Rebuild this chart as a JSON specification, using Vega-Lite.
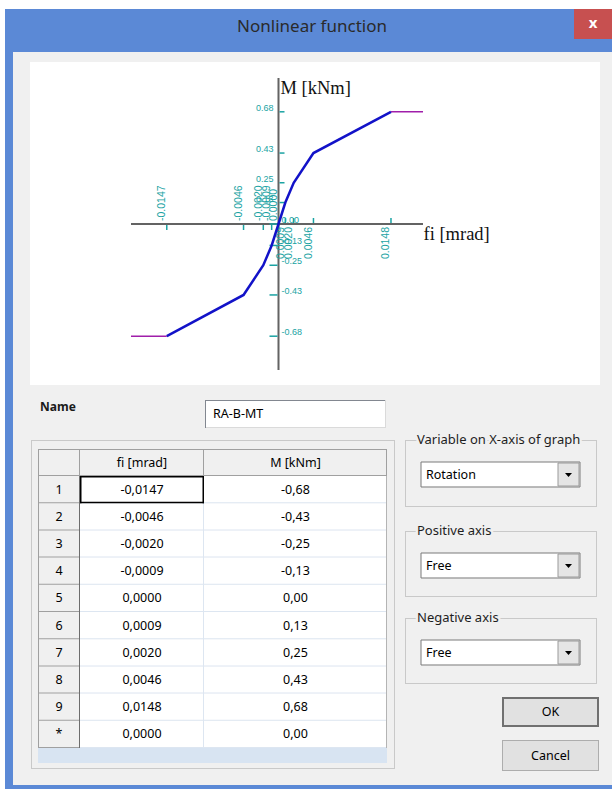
{
  "$schema": "https://vega.github.io/schema/vega-lite/v6.json",
  "background": "#F0F0F0",
  "padding": 0,
  "config": {
    "view": {"stroke": null},
    "tick": {"opacity": 1},
    "locale": {"number": {"decimal": ".", "thousands": ",", "grouping": [3], "currency": ["", ""], "minus": "-"}}
  },
  "datasets": {
    "table": [
      {"n": "1", "fi": -0.0147, "M": -0.68, "fiText": "-0,0147", "MText": "-0,68"},
      {"n": "2", "fi": -0.0046, "M": -0.43, "fiText": "-0,0046", "MText": "-0,43"},
      {"n": "3", "fi": -0.0020, "M": -0.25, "fiText": "-0,0020", "MText": "-0,25"},
      {"n": "4", "fi": -0.0009, "M": -0.13, "fiText": "-0,0009", "MText": "-0,13"},
      {"n": "5", "fi": 0.0, "M": 0.0, "fiText": "0,0000", "MText": "0,00"},
      {"n": "6", "fi": 0.0009, "M": 0.13, "fiText": "0,0009", "MText": "0,13"},
      {"n": "7", "fi": 0.0020, "M": 0.25, "fiText": "0,0020", "MText": "0,25"},
      {"n": "8", "fi": 0.0046, "M": 0.43, "fiText": "0,0046", "MText": "0,43"},
      {"n": "9", "fi": 0.0148, "M": 0.68, "fiText": "0,0148", "MText": "0,68"},
      {"n": "*", "fi": null, "M": null, "fiText": "0,0000", "MText": "0,00"}
    ],
    "ext": [
      {"seg": "L", "fi": -0.019408, "M": -0.68},
      {"seg": "L", "fi": -0.0147, "M": -0.68},
      {"seg": "R", "fi": 0.0148, "M": 0.68},
      {"seg": "R", "fi": 0.019013, "M": 0.68}
    ],
    "none": [],
    "one": [{}]
  },
  "spacing": 0,
  "hconcat": [
    {"width": 5, "height": 789, "view": {"fill": "white", "stroke": null}, "data": {"name": "none"}, "mark": "text", "encoding": {"text": {"value": ""}}},
    {
      "spacing": 0,
      "vconcat": [
        {"width": 607, "height": 9, "view": {"fill": "white", "stroke": null}, "data": {"name": "none"}, "mark": "text", "encoding": {"text": {"value": ""}}},
        {
          "spacing": 0,
          "hconcat": [
            {"width": 569, "height": 43, "view": {"fill": "#5B89D6", "stroke": null}, "data": {"values": [{"t": "Nonlinear function"}]}, "mark": {"type": "text", "font": "Noto Sans", "fontSize": 17, "color": "#2A2A2A", "dx": 22.5, "dy": -3.5}, "encoding": {"text": {"field": "t"}}},
            {
              "spacing": 0,
              "vconcat": [
                {"width": 38, "height": 30, "view": {"fill": "#C75050", "stroke": null}, "data": {"values": [{"t": "x"}]}, "mark": {"type": "text", "font": "Noto Sans", "fontSize": 15, "fontWeight": "bold", "color": "white", "dy": -1}, "encoding": {"text": {"field": "t"}}},
                {"width": 38, "height": 13, "view": {"fill": "#5B89D6", "stroke": null}, "data": {"name": "none"}, "mark": "text", "encoding": {"text": {"value": ""}}}
              ]
            }
          ]
        },
        {
          "spacing": 0,
          "hconcat": [
            {"width": 8, "height": 733, "view": {"fill": "#5B89D6", "stroke": null}, "data": {"name": "none"}, "mark": "text", "encoding": {"text": {"value": ""}}},
            {
              "spacing": 0,
              "vconcat": [
                {"width": 1, "height": 10, "data": {"name": "none"}, "mark": "text", "encoding": {"text": {"value": ""}}},
                {
                  "spacing": 0,
                  "hconcat": [
                    {"width": 17, "height": 1, "data": {"name": "none"}, "mark": "text", "encoding": {"text": {"value": ""}}},
                    {
                      "width": 570,
                      "height": 323,
                      "view": {"fill": "white", "stroke": null},
                      "layer": [
                        {"data": {"name": "one"}, "mark": {"type": "rule", "color": "#636363", "strokeWidth": 2},
                          "encoding": {
                            "x": {"datum": -0.019408, "type": "quantitative", "scale": {"domain": [-0.0326974, 0.0423026], "nice": false, "zero": false}, "axis": null},
                            "x2": {"datum": 0.019013},
                            "y": {"datum": 0, "type": "quantitative", "scale": {"domain": [-0.975758, 0.981818], "nice": false, "zero": false}, "axis": null}
                          }},
                        {"data": {"name": "one"}, "mark": {"type": "rule", "color": "#636363", "strokeWidth": 2},
                          "encoding": {
                            "x": {"datum": 0, "type": "quantitative", "scale": {"domain": [-0.0326974, 0.0423026], "nice": false, "zero": false}, "axis": null},
                            "y": {"datum": 0.88485, "type": "quantitative", "scale": {"domain": [-0.975758, 0.981818], "nice": false, "zero": false}, "axis": null},
                            "y2": {"datum": -0.88485}
                          }},
                        {"data": {"name": "table"}, "transform": [{"filter": "datum.n !== '*' && datum.fi <= 0"}],
                          "mark": {"type": "tick", "orient": "vertical", "size": 5, "thickness": 1.5, "yOffset": 3.5, "color": "#1AA3A3", "opacity": 1},
                          "encoding": {
                            "x": {"field": "fi", "type": "quantitative", "scale": {"domain": [-0.0326974, 0.0423026], "nice": false, "zero": false}, "axis": null},
                            "y": {"datum": 0, "type": "quantitative", "scale": {"domain": [-0.975758, 0.981818], "nice": false, "zero": false}, "axis": null}
                          }},
                        {"data": {"name": "table"}, "transform": [{"filter": "datum.n !== '*' && datum.fi > 0"}],
                          "mark": {"type": "tick", "orient": "vertical", "size": 5, "thickness": 1.5, "yOffset": -3.5, "color": "#1AA3A3", "opacity": 1},
                          "encoding": {
                            "x": {"field": "fi", "type": "quantitative", "scale": {"domain": [-0.0326974, 0.0423026], "nice": false, "zero": false}, "axis": null},
                            "y": {"datum": 0, "type": "quantitative", "scale": {"domain": [-0.975758, 0.981818], "nice": false, "zero": false}, "axis": null}
                          }},
                        {"data": {"name": "table"}, "transform": [{"filter": "datum.n !== '*' && datum.M > 0"}],
                          "mark": {"type": "tick", "orient": "horizontal", "size": 5, "thickness": 1.5, "xOffset": 3.5, "color": "#1AA3A3", "opacity": 1},
                          "encoding": {
                            "x": {"datum": 0, "type": "quantitative", "scale": {"domain": [-0.0326974, 0.0423026], "nice": false, "zero": false}, "axis": null},
                            "y": {"field": "M", "type": "quantitative", "scale": {"domain": [-0.975758, 0.981818], "nice": false, "zero": false}, "axis": null}
                          }},
                        {"data": {"name": "table"}, "transform": [{"filter": "datum.n !== '*' && datum.M <= 0"}],
                          "mark": {"type": "tick", "orient": "horizontal", "size": 8, "thickness": 1.5, "xOffset": -5, "color": "#1AA3A3", "opacity": 1},
                          "encoding": {
                            "x": {"datum": 0, "type": "quantitative", "scale": {"domain": [-0.0326974, 0.0423026], "nice": false, "zero": false}, "axis": null},
                            "y": {"field": "M", "type": "quantitative", "scale": {"domain": [-0.975758, 0.981818], "nice": false, "zero": false}, "axis": null}
                          }},
                        {"data": {"name": "table"}, "transform": [{"filter": "datum.n !== '*' && datum.fi <= 0"}],
                          "mark": {"type": "text", "angle": 270, "align": "left", "baseline": "alphabetic", "dx": 3, "dy": -1.5, "font": "Liberation Sans", "fontSize": 10.5, "color": "#1AA3A3"},
                          "encoding": {
                            "x": {"field": "fi", "type": "quantitative", "scale": {"domain": [-0.0326974, 0.0423026], "nice": false, "zero": false}, "axis": null},
                            "y": {"datum": 0, "type": "quantitative", "scale": {"domain": [-0.975758, 0.981818], "nice": false, "zero": false}, "axis": null},
                            "text": {"field": "fi", "type": "quantitative", "format": ".4f"}
                          }},
                        {"data": {"name": "table"}, "transform": [{"filter": "datum.n !== '*' && datum.fi > 0"}],
                          "mark": {"type": "text", "angle": 270, "align": "right", "baseline": "alphabetic", "dx": -3, "dy": -1.5, "font": "Liberation Sans", "fontSize": 10.5, "color": "#1AA3A3"},
                          "encoding": {
                            "x": {"field": "fi", "type": "quantitative", "scale": {"domain": [-0.0326974, 0.0423026], "nice": false, "zero": false}, "axis": null},
                            "y": {"datum": 0, "type": "quantitative", "scale": {"domain": [-0.975758, 0.981818], "nice": false, "zero": false}, "axis": null},
                            "text": {"field": "fi", "type": "quantitative", "format": ".4f"}
                          }},
                        {"data": {"name": "table"}, "transform": [{"filter": "datum.n !== '*' && datum.M > 0"}],
                          "mark": {"type": "text", "align": "right", "baseline": "alphabetic", "dx": -5, "dy": -1, "font": "Liberation Sans", "fontSize": 9, "color": "#1AA3A3"},
                          "encoding": {
                            "x": {"datum": 0, "type": "quantitative", "scale": {"domain": [-0.0326974, 0.0423026], "nice": false, "zero": false}, "axis": null},
                            "y": {"field": "M", "type": "quantitative", "scale": {"domain": [-0.975758, 0.981818], "nice": false, "zero": false}, "axis": null},
                            "text": {"field": "M", "type": "quantitative", "format": ".2f"}
                          }},
                        {"data": {"name": "table"}, "transform": [{"filter": "datum.n !== '*' && datum.M <= 0"}],
                          "mark": {"type": "text", "align": "left", "baseline": "alphabetic", "dx": 3, "dy": -1, "font": "Liberation Sans", "fontSize": 9, "color": "#1AA3A3"},
                          "encoding": {
                            "x": {"datum": 0, "type": "quantitative", "scale": {"domain": [-0.0326974, 0.0423026], "nice": false, "zero": false}, "axis": null},
                            "y": {"field": "M", "type": "quantitative", "scale": {"domain": [-0.975758, 0.981818], "nice": false, "zero": false}, "axis": null},
                            "text": {"field": "M", "type": "quantitative", "format": ".2f"}
                          }},
                        {"data": {"name": "ext"},
                          "mark": {"type": "line", "color": "#A01EAA", "strokeWidth": 1.5},
                          "encoding": {
                            "x": {"field": "fi", "type": "quantitative", "scale": {"domain": [-0.0326974, 0.0423026], "nice": false, "zero": false}, "axis": null},
                            "y": {"field": "M", "type": "quantitative", "scale": {"domain": [-0.975758, 0.981818], "nice": false, "zero": false}, "axis": null},
                            "detail": {"field": "seg"}
                          }},
                        {"data": {"name": "table"}, "transform": [{"filter": "datum.n !== '*'"}],
                          "mark": {"type": "line", "color": "#1212C8", "strokeWidth": 2.5},
                          "encoding": {
                            "x": {"field": "fi", "type": "quantitative", "scale": {"domain": [-0.0326974, 0.0423026], "nice": false, "zero": false}, "axis": null},
                            "y": {"field": "M", "type": "quantitative", "scale": {"domain": [-0.975758, 0.981818], "nice": false, "zero": false}, "axis": null}
                          }},
                        {"data": {"values": [{"t": "M [kNm]"}]},
                          "mark": {"type": "text", "align": "left", "baseline": "alphabetic", "dx": 2, "dy": 16, "font": "Liberation Serif", "fontSize": 18.5, "color": "#111111"},
                          "encoding": {
                            "x": {"datum": 0, "type": "quantitative", "scale": {"domain": [-0.0326974, 0.0423026], "nice": false, "zero": false}, "axis": null},
                            "y": {"datum": 0.88485, "type": "quantitative", "scale": {"domain": [-0.975758, 0.981818], "nice": false, "zero": false}, "axis": null},
                            "text": {"field": "t"}
                          }},
                        {"data": {"values": [{"t": "fi [mrad]"}]},
                          "mark": {"type": "text", "align": "left", "baseline": "alphabetic", "dx": 0.5, "dy": 16, "font": "Liberation Serif", "fontSize": 18.5, "color": "#111111"},
                          "encoding": {
                            "x": {"datum": 0.019013, "type": "quantitative", "scale": {"domain": [-0.0326974, 0.0423026], "nice": false, "zero": false}, "axis": null},
                            "y": {"datum": 0, "type": "quantitative", "scale": {"domain": [-0.975758, 0.981818], "nice": false, "zero": false}, "axis": null},
                            "text": {"field": "t"}
                          }}
                      ]
                    }
                  ]
                },
                {"width": 1, "height": 15, "data": {"name": "none"}, "mark": "text", "encoding": {"text": {"value": ""}}},
                {
                  "spacing": 0,
                  "hconcat": [
                    {"width": 25, "height": 1, "data": {"name": "none"}, "mark": "text", "encoding": {"text": {"value": ""}}},
                    {"width": 40, "height": 14, "data": {"values": [{"t": "Name"}]}, "mark": {"type": "text", "font": "Noto Sans", "fontSize": 12, "fontWeight": "bold", "color": "#1A1A1A"}, "encoding": {"text": {"field": "t"}}},
                    {"width": 127, "height": 1, "data": {"name": "none"}, "mark": "text", "encoding": {"text": {"value": ""}}},
                    {"width": 181, "height": 28, "view": {"fill": "white", "stroke": null}, "data": {"values": [{"t": "RA-B-MT"}]},
                      "layer": [
                        {"mark": {"type": "text", "align": "left", "dx": -82.5, "font": "Noto Sans", "fontSize": 12.5, "color": "#000000"}, "encoding": {"text": {"field": "t"}}},
                        {"mark": {"type": "tick", "orient": "horizontal", "size": 181, "thickness": 1, "yOffset": -13.5, "color": "#828790"}, "encoding": {}},
                        {"mark": {"type": "tick", "orient": "horizontal", "size": 181, "thickness": 1, "yOffset": 13.5, "color": "#DADADA"}, "encoding": {}},
                        {"mark": {"type": "tick", "orient": "vertical", "size": 28, "thickness": 1, "xOffset": -90, "color": "#828790"}, "encoding": {}},
                        {"mark": {"type": "tick", "orient": "vertical", "size": 28, "thickness": 1, "xOffset": 90, "color": "#DADADA"}, "encoding": {}}
                      ]}
                  ]
                },
                {
                  "spacing": 0,
                  "hconcat": [
                    {"width": 18, "height": 1, "data": {"name": "none"}, "mark": "text", "encoding": {"text": {"value": ""}}},
                    {
                      "spacing": 0,
                      "vconcat": [
                        {"width": 1, "height": 12, "data": {"name": "none"}, "mark": "text", "encoding": {"text": {"value": ""}}},
                        {"width": 364, "height": 1, "view": {"fill": "#C9C9C9", "stroke": null}, "data": {"name": "none"}, "mark": "text", "encoding": {"text": {"value": ""}}},
                        {
                          "spacing": 0,
                          "hconcat": [
                            {"width": 1, "height": 327, "view": {"fill": "#C9C9C9", "stroke": null}, "data": {"name": "none"}, "mark": "text", "encoding": {"text": {"value": ""}}},
                            {"width": 6, "height": 1, "data": {"name": "none"}, "mark": "text", "encoding": {"text": {"value": ""}}},
                            {
                              "spacing": 0,
                              "vconcat": [
                                {"width": 1, "height": 8, "data": {"name": "none"}, "mark": "text", "encoding": {"text": {"value": ""}}},
                                {
                                  "spacing": 0,
                                  "hconcat": [
                                    {"width": 42, "height": 27, "view": {"fill": "#F0F0F0", "stroke": null}, "data": {"name": "one"},
                                      "layer": [
                                        {"mark": {"type": "tick", "orient": "horizontal", "size": 42, "thickness": 1, "yOffset": -13, "color": "#A0A0A0"}, "encoding": {}},
                                        {"mark": {"type": "tick", "orient": "horizontal", "size": 42, "thickness": 1, "yOffset": 13, "color": "#A0A0A0"}, "encoding": {}},
                                        {"mark": {"type": "tick", "orient": "vertical", "size": 27, "thickness": 1, "xOffset": -20.5, "color": "#A0A0A0"}, "encoding": {}},
                                        {"mark": {"type": "tick", "orient": "vertical", "size": 27, "thickness": 1, "xOffset": 20.5, "color": "#A0A0A0"}, "encoding": {}}
                                      ]},
                                    {"width": 124, "height": 27, "view": {"fill": "#F0F0F0", "stroke": null}, "data": {"values": [{"t": "fi [mrad]"}]},
                                      "layer": [
                                        {"mark": {"type": "tick", "orient": "horizontal", "size": 124, "thickness": 1, "yOffset": -13, "color": "#A0A0A0"}, "encoding": {}},
                                        {"mark": {"type": "tick", "orient": "horizontal", "size": 124, "thickness": 1, "yOffset": 13, "color": "#A0A0A0"}, "encoding": {}},
                                        {"mark": {"type": "tick", "orient": "vertical", "size": 27, "thickness": 1, "xOffset": 61.5, "color": "#A0A0A0"}, "encoding": {}},
                                        {"mark": {"type": "text", "font": "Noto Sans", "fontSize": 12.5, "color": "#000"}, "encoding": {"text": {"field": "t"}}}
                                      ]},
                                    {"width": 183, "height": 27, "view": {"fill": "#F0F0F0", "stroke": null}, "data": {"values": [{"t": "M [kNm]"}]},
                                      "layer": [
                                        {"mark": {"type": "tick", "orient": "horizontal", "size": 183, "thickness": 1, "yOffset": -13, "color": "#A0A0A0"}, "encoding": {}},
                                        {"mark": {"type": "tick", "orient": "horizontal", "size": 183, "thickness": 1, "yOffset": 13, "color": "#A0A0A0"}, "encoding": {}},
                                        {"mark": {"type": "tick", "orient": "vertical", "size": 27, "thickness": 1, "xOffset": 91, "color": "#A0A0A0"}, "encoding": {}},
                                        {"mark": {"type": "text", "font": "Noto Sans", "fontSize": 12.5, "color": "#000"}, "encoding": {"text": {"field": "t"}}}
                                      ]}
                                  ]
                                },
                                {
                                  "spacing": 0,
                                  "hconcat": [
                                    {"width": 42, "height": 272, "data": {"name": "table"},
                                      "layer": [
                                        {"mark": {"type": "rect", "fill": "#F0F0F0"},
                                          "encoding": {"y": {"field": "n", "type": "nominal", "sort": null, "axis": null, "scale": {"paddingInner": 0, "paddingOuter": 0}}}},
                                        {"mark": {"type": "tick", "orient": "horizontal", "size": 42, "thickness": 1, "yOffset": 13.1, "color": "#A0A0A0"},
                                          "encoding": {"y": {"field": "n", "type": "nominal", "sort": null, "axis": null, "scale": {"paddingInner": 0, "paddingOuter": 0}}}},
                                        {"data": {"name": "one"}, "mark": {"type": "tick", "orient": "vertical", "size": 272, "thickness": 1, "xOffset": 20.5, "color": "#6D6D6D"}, "encoding": {}},
                                        {"data": {"name": "one"}, "mark": {"type": "tick", "orient": "vertical", "size": 272, "thickness": 1, "xOffset": -20.5, "color": "#A0A0A0"}, "encoding": {}},
                                        {"mark": {"type": "text", "font": "Noto Sans", "fontSize": 12.5, "color": "#000"},
                                          "encoding": {"y": {"field": "n", "type": "nominal", "sort": null, "axis": null, "scale": {"paddingInner": 0, "paddingOuter": 0}}, "text": {"field": "n"}}}
                                      ]},
                                    {"width": 124, "height": 272, "data": {"name": "table"},
                                      "layer": [
                                        {"mark": {"type": "rect", "fill": "white"},
                                          "encoding": {"y": {"field": "n", "type": "nominal", "sort": null, "axis": null, "scale": {"paddingInner": 0, "paddingOuter": 0}}}},
                                        {"mark": {"type": "tick", "orient": "horizontal", "size": 124, "thickness": 1, "yOffset": 13.1, "color": "#DDE6F1"},
                                          "encoding": {"y": {"field": "n", "type": "nominal", "sort": null, "axis": null, "scale": {"paddingInner": 0, "paddingOuter": 0}}}},
                                        {"data": {"name": "one"}, "mark": {"type": "tick", "orient": "vertical", "size": 272, "thickness": 1, "xOffset": 61.5, "color": "#DDE6F1"}, "encoding": {}},
                                        {"transform": [{"filter": "datum.n === '1'"}], "mark": {"type": "tick", "orient": "horizontal", "size": 124, "thickness": 1.5, "yOffset": -12.85, "color": "#000000"},
                                          "encoding": {"y": {"field": "n", "type": "nominal", "sort": null, "axis": null, "scale": {"paddingInner": 0, "paddingOuter": 0}}}},
                                        {"transform": [{"filter": "datum.n === '1'"}], "mark": {"type": "tick", "orient": "horizontal", "size": 124, "thickness": 1.5, "yOffset": 12.85, "color": "#000000"},
                                          "encoding": {"y": {"field": "n", "type": "nominal", "sort": null, "axis": null, "scale": {"paddingInner": 0, "paddingOuter": 0}}}},
                                        {"transform": [{"filter": "datum.n === '1'"}], "mark": {"type": "tick", "orient": "vertical", "size": 27.2, "thickness": 1.5, "xOffset": -61.25, "color": "#000000"},
                                          "encoding": {"y": {"field": "n", "type": "nominal", "sort": null, "axis": null, "scale": {"paddingInner": 0, "paddingOuter": 0}}}},
                                        {"transform": [{"filter": "datum.n === '1'"}], "mark": {"type": "tick", "orient": "vertical", "size": 27.2, "thickness": 1.5, "xOffset": 61.25, "color": "#000000"},
                                          "encoding": {"y": {"field": "n", "type": "nominal", "sort": null, "axis": null, "scale": {"paddingInner": 0, "paddingOuter": 0}}}},
                                        {"mark": {"type": "text", "font": "Noto Sans", "fontSize": 12.5, "color": "#000"},
                                          "encoding": {"y": {"field": "n", "type": "nominal", "sort": null, "axis": null, "scale": {"paddingInner": 0, "paddingOuter": 0}}, "text": {"field": "fiText"}}}
                                      ]},
                                    {"width": 183, "height": 272, "data": {"name": "table"},
                                      "layer": [
                                        {"mark": {"type": "rect", "fill": "white"},
                                          "encoding": {"y": {"field": "n", "type": "nominal", "sort": null, "axis": null, "scale": {"paddingInner": 0, "paddingOuter": 0}}}},
                                        {"mark": {"type": "tick", "orient": "horizontal", "size": 183, "thickness": 1, "yOffset": 13.1, "color": "#DDE6F1"},
                                          "encoding": {"y": {"field": "n", "type": "nominal", "sort": null, "axis": null, "scale": {"paddingInner": 0, "paddingOuter": 0}}}},
                                        {"data": {"name": "one"}, "mark": {"type": "tick", "orient": "vertical", "size": 272, "thickness": 1, "xOffset": 91, "color": "#B4B4B4"}, "encoding": {}},
                                        {"mark": {"type": "text", "font": "Noto Sans", "fontSize": 12.5, "color": "#000"},
                                          "encoding": {"y": {"field": "n", "type": "nominal", "sort": null, "axis": null, "scale": {"paddingInner": 0, "paddingOuter": 0}}, "text": {"field": "MText"}}}
                                      ]}
                                  ]
                                },
                                {"width": 349, "height": 15, "view": {"fill": "#D8E4F2", "stroke": null}, "data": {"name": "none"}, "mark": "text", "encoding": {"text": {"value": ""}}}
                              ]
                            },
                            {"width": 7, "height": 1, "data": {"name": "none"}, "mark": "text", "encoding": {"text": {"value": ""}}},
                            {"width": 1, "height": 327, "view": {"fill": "#C9C9C9", "stroke": null}, "data": {"name": "none"}, "mark": "text", "encoding": {"text": {"value": ""}}}
                          ]
                        },
                        {"width": 364, "height": 1, "view": {"fill": "#C9C9C9", "stroke": null}, "data": {"name": "none"}, "mark": "text", "encoding": {"text": {"value": ""}}}
                      ]
                    },
                    {"width": 10, "height": 1, "data": {"name": "none"}, "mark": "text", "encoding": {"text": {"value": ""}}},
                    {
                      "spacing": 0,
                      "vconcat": [
                        {"width": 192, "height": 79,
                          "data": {"values": [{"label": "Variable on X-axis of graph", "value": "Rotation"}]},
                          "layer": [
                            {"mark": {"type": "tick", "orient": "horizontal", "size": 192, "thickness": 1, "yOffset": -27, "color": "#C9C9C9"}, "encoding": {}},
                            {"mark": {"type": "tick", "orient": "horizontal", "size": 192, "thickness": 1, "yOffset": 39, "color": "#C9C9C9"}, "encoding": {}},
                            {"mark": {"type": "tick", "orient": "vertical", "size": 67, "thickness": 1, "xOffset": -95.5, "yOffset": 6, "color": "#C9C9C9"}, "encoding": {}},
                            {"mark": {"type": "tick", "orient": "vertical", "size": 67, "thickness": 1, "xOffset": 95.5, "yOffset": 6, "color": "#C9C9C9"}, "encoding": {}},
                            {"mark": {"type": "point", "shape": "M-1,-0.1572H1V0.1572H-1Z", "size": 25281, "filled": true, "fill": "white", "stroke": "#7A7A7A", "strokeWidth": 1, "opacity": 1, "xOffset": -0.5, "yOffset": 7}, "encoding": {}},
                            {"mark": {"type": "point", "shape": "M-0.913,-1H0.913V1H-0.913Z", "size": 529, "filled": true, "fill": "#E5E5E5", "stroke": "#9A9A9A", "strokeWidth": 1, "opacity": 1, "xOffset": 67.5, "yOffset": 7}, "encoding": {}},
                            {"mark": {"type": "point", "shape": "M-1,-0.5714H1L0,0.5714Z", "size": 49, "filled": true, "fill": "#000000", "opacity": 1, "xOffset": 67.5, "yOffset": 7.5}, "encoding": {}},
                            {"mark": {"type": "text", "align": "left", "dx": -75, "dy": 7, "font": "Noto Sans", "fontSize": 12.5, "color": "#000000"}, "encoding": {"text": {"field": "value"}}},
                            {"mark": {"type": "text", "align": "left", "dx": -84, "dy": -27.5, "font": "Noto Sans", "fontSize": 13, "fill": "#F0F0F0", "stroke": "#F0F0F0", "strokeWidth": 5}, "encoding": {"text": {"field": "label"}}},
                            {"mark": {"type": "text", "align": "left", "dx": -84, "dy": -27.5, "font": "Noto Sans", "fontSize": 13, "color": "#1E1E1E"}, "encoding": {"text": {"field": "label"}}}
                          ]},
                        {"width": 1, "height": 12, "data": {"name": "none"}, "mark": "text", "encoding": {"text": {"value": ""}}},
                        {"width": 192, "height": 78,
                          "data": {"values": [{"label": "Positive axis", "value": "Free"}]},
                          "layer": [
                            {"mark": {"type": "tick", "orient": "horizontal", "size": 192, "thickness": 1, "yOffset": -26.5, "color": "#C9C9C9"}, "encoding": {}},
                            {"mark": {"type": "tick", "orient": "horizontal", "size": 192, "thickness": 1, "yOffset": 38.5, "color": "#C9C9C9"}, "encoding": {}},
                            {"mark": {"type": "tick", "orient": "vertical", "size": 66, "thickness": 1, "xOffset": -95.5, "yOffset": 6, "color": "#C9C9C9"}, "encoding": {}},
                            {"mark": {"type": "tick", "orient": "vertical", "size": 66, "thickness": 1, "xOffset": 95.5, "yOffset": 6, "color": "#C9C9C9"}, "encoding": {}},
                            {"mark": {"type": "point", "shape": "M-1,-0.1572H1V0.1572H-1Z", "size": 25281, "filled": true, "fill": "white", "stroke": "#7A7A7A", "strokeWidth": 1, "opacity": 1, "xOffset": -0.5, "yOffset": 7.5}, "encoding": {}},
                            {"mark": {"type": "point", "shape": "M-0.913,-1H0.913V1H-0.913Z", "size": 529, "filled": true, "fill": "#E5E5E5", "stroke": "#9A9A9A", "strokeWidth": 1, "opacity": 1, "xOffset": 67.5, "yOffset": 7.5}, "encoding": {}},
                            {"mark": {"type": "point", "shape": "M-1,-0.5714H1L0,0.5714Z", "size": 49, "filled": true, "fill": "#000000", "opacity": 1, "xOffset": 67.5, "yOffset": 8}, "encoding": {}},
                            {"mark": {"type": "text", "align": "left", "dx": -75, "dy": 7.5, "font": "Noto Sans", "fontSize": 12.5, "color": "#000000"}, "encoding": {"text": {"field": "value"}}},
                            {"mark": {"type": "text", "align": "left", "dx": -84, "dy": -27, "font": "Noto Sans", "fontSize": 13, "fill": "#F0F0F0", "stroke": "#F0F0F0", "strokeWidth": 5}, "encoding": {"text": {"field": "label"}}},
                            {"mark": {"type": "text", "align": "left", "dx": -84, "dy": -27, "font": "Noto Sans", "fontSize": 13, "color": "#1E1E1E"}, "encoding": {"text": {"field": "label"}}}
                          ]},
                        {"width": 1, "height": 9, "data": {"name": "none"}, "mark": "text", "encoding": {"text": {"value": ""}}},
                        {"width": 192, "height": 78,
                          "data": {"values": [{"label": "Negative axis", "value": "Free"}]},
                          "layer": [
                            {"mark": {"type": "tick", "orient": "horizontal", "size": 192, "thickness": 1, "yOffset": -26.5, "color": "#C9C9C9"}, "encoding": {}},
                            {"mark": {"type": "tick", "orient": "horizontal", "size": 192, "thickness": 1, "yOffset": 38.5, "color": "#C9C9C9"}, "encoding": {}},
                            {"mark": {"type": "tick", "orient": "vertical", "size": 66, "thickness": 1, "xOffset": -95.5, "yOffset": 6, "color": "#C9C9C9"}, "encoding": {}},
                            {"mark": {"type": "tick", "orient": "vertical", "size": 66, "thickness": 1, "xOffset": 95.5, "yOffset": 6, "color": "#C9C9C9"}, "encoding": {}},
                            {"mark": {"type": "point", "shape": "M-1,-0.1572H1V0.1572H-1Z", "size": 25281, "filled": true, "fill": "white", "stroke": "#7A7A7A", "strokeWidth": 1, "opacity": 1, "xOffset": -0.5, "yOffset": 7.5}, "encoding": {}},
                            {"mark": {"type": "point", "shape": "M-0.913,-1H0.913V1H-0.913Z", "size": 529, "filled": true, "fill": "#E5E5E5", "stroke": "#9A9A9A", "strokeWidth": 1, "opacity": 1, "xOffset": 67.5, "yOffset": 7.5}, "encoding": {}},
                            {"mark": {"type": "point", "shape": "M-1,-0.5714H1L0,0.5714Z", "size": 49, "filled": true, "fill": "#000000", "opacity": 1, "xOffset": 67.5, "yOffset": 8}, "encoding": {}},
                            {"mark": {"type": "text", "align": "left", "dx": -75, "dy": 7.5, "font": "Noto Sans", "fontSize": 12.5, "color": "#000000"}, "encoding": {"text": {"field": "value"}}},
                            {"mark": {"type": "text", "align": "left", "dx": -84, "dy": -27, "font": "Noto Sans", "fontSize": 13, "fill": "#F0F0F0", "stroke": "#F0F0F0", "strokeWidth": 5}, "encoding": {"text": {"field": "label"}}},
                            {"mark": {"type": "text", "align": "left", "dx": -84, "dy": -27, "font": "Noto Sans", "fontSize": 13, "color": "#1E1E1E"}, "encoding": {"text": {"field": "label"}}}
                          ]},
                        {"width": 1, "height": 13, "data": {"name": "none"}, "mark": "text", "encoding": {"text": {"value": ""}}},
                        {
                          "spacing": 0,
                          "hconcat": [
                            {"width": 97, "height": 1, "data": {"name": "none"}, "mark": "text", "encoding": {"text": {"value": ""}}},
                            {"width": 97, "height": 30, "view": {"fill": "#E1E1E1", "stroke": null}, "data": {"values": [{"t": "OK"}]},
                              "layer": [
                                {"mark": {"type": "tick", "orient": "horizontal", "size": 97, "thickness": 2, "yOffset": -14, "color": "#707070"}, "encoding": {}},
                                {"mark": {"type": "tick", "orient": "horizontal", "size": 97, "thickness": 2, "yOffset": 14, "color": "#707070"}, "encoding": {}},
                                {"mark": {"type": "tick", "orient": "vertical", "size": 30, "thickness": 2, "xOffset": -47.5, "color": "#707070"}, "encoding": {}},
                                {"mark": {"type": "tick", "orient": "vertical", "size": 30, "thickness": 2, "xOffset": 47.5, "color": "#707070"}, "encoding": {}},
                                {"mark": {"type": "text", "font": "Noto Sans", "fontSize": 12.5, "color": "#000000"}, "encoding": {"text": {"field": "t"}}}
                              ]}
                          ]
                        },
                        {"width": 1, "height": 13, "data": {"name": "none"}, "mark": "text", "encoding": {"text": {"value": ""}}},
                        {
                          "spacing": 0,
                          "hconcat": [
                            {"width": 97, "height": 1, "data": {"name": "none"}, "mark": "text", "encoding": {"text": {"value": ""}}},
                            {"width": 97, "height": 31, "view": {"fill": "#E1E1E1", "stroke": null}, "data": {"values": [{"t": "Cancel"}]},
                              "layer": [
                                {"mark": {"type": "tick", "orient": "horizontal", "size": 97, "thickness": 1, "yOffset": -15, "color": "#ADADAD"}, "encoding": {}},
                                {"mark": {"type": "tick", "orient": "horizontal", "size": 97, "thickness": 1, "yOffset": 15, "color": "#ADADAD"}, "encoding": {}},
                                {"mark": {"type": "tick", "orient": "vertical", "size": 31, "thickness": 1, "xOffset": -48, "color": "#ADADAD"}, "encoding": {}},
                                {"mark": {"type": "tick", "orient": "vertical", "size": 31, "thickness": 1, "xOffset": 48, "color": "#ADADAD"}, "encoding": {}},
                                {"mark": {"type": "text", "font": "Noto Sans", "fontSize": 12.5, "color": "#000000"}, "encoding": {"text": {"field": "t"}}}
                              ]}
                          ]
                        }
                      ]
                    }
                  ]
                },
                {"width": 1, "height": 14, "data": {"name": "none"}, "mark": "text", "encoding": {"text": {"value": ""}}}
              ]
            }
          ]
        },
        {"width": 607, "height": 4, "view": {"fill": "#5B89D6", "stroke": null}, "data": {"name": "none"}, "mark": "text", "encoding": {"text": {"value": ""}}}
      ]
    }
  ]
}
